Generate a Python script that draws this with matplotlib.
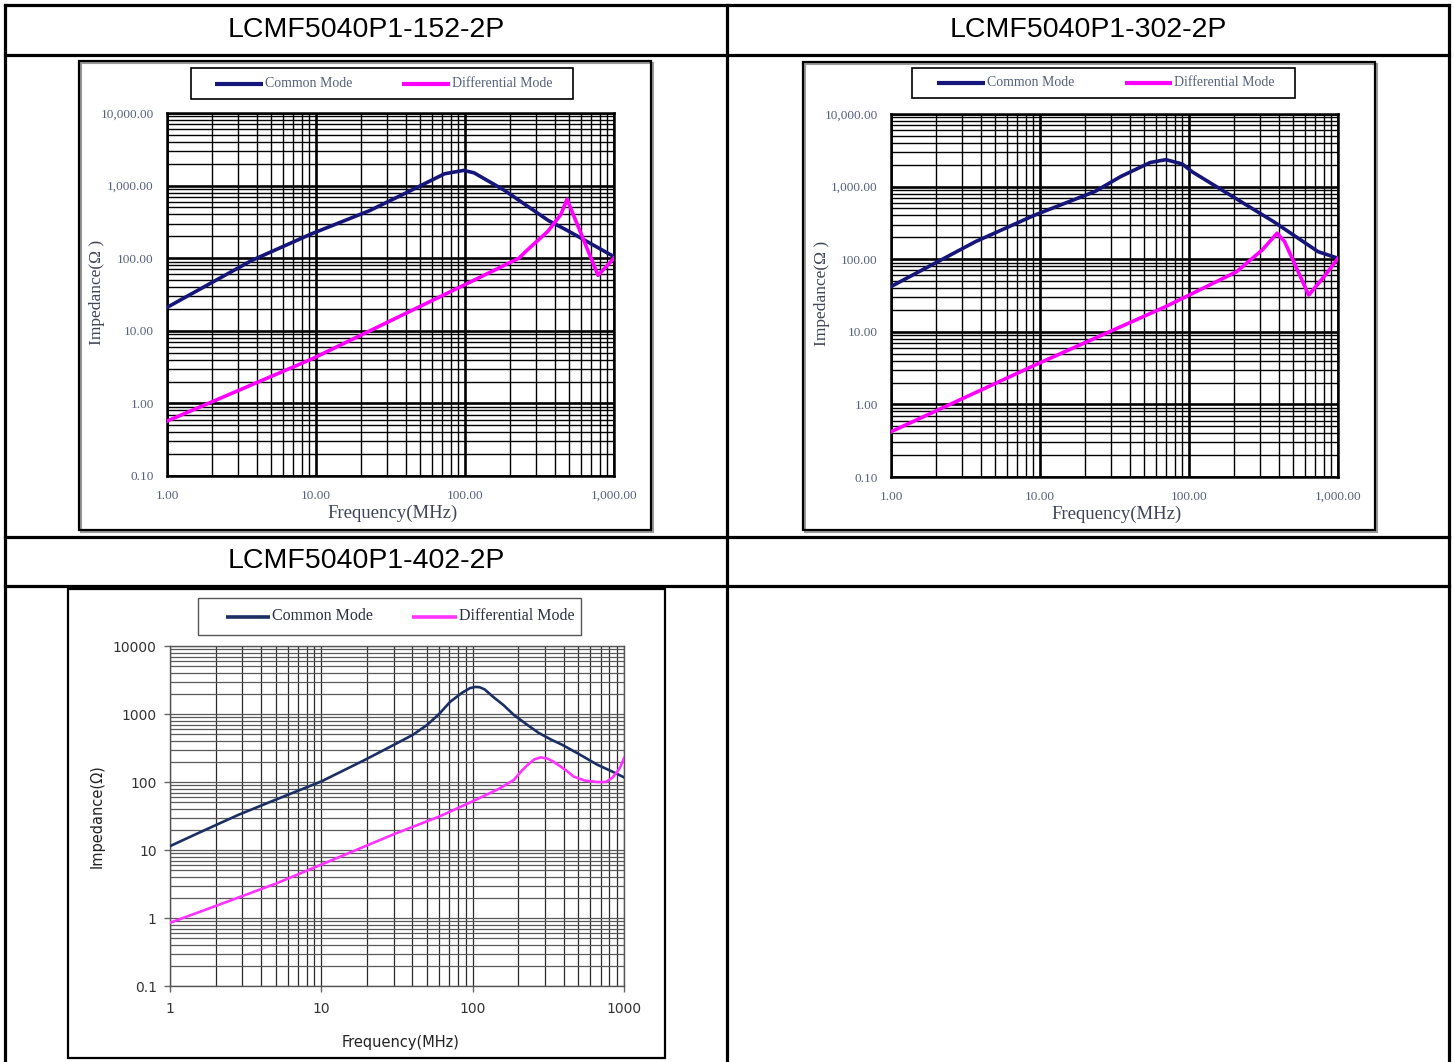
import matplotlib
matplotlib.use("Agg")
import matplotlib.pyplot as plt
from matplotlib.patches import Rectangle
from matplotlib.ticker import LogLocator, NullFormatter
import numpy as np

W, H = 1454, 1062

# --- data (MHz, Ohm) ---
titles = ["LCMF5040P1-152-2P", "LCMF5040P1-302-2P", "LCMF5040P1-402-2P"]

f_cm_152 = [1, 3.7, 9.3, 23, 41, 73, 98, 115, 184, 363, 488, 1000]
cm_152 = [21, 93, 216, 454, 810, 1456, 1620, 1500, 860, 330, 240, 105]
f_dm_152 = [1, 9.4, 97, 230, 257, 360, 440, 484, 781, 1000]
dm_152 = [0.57, 4.1, 42, 100, 125, 235, 400, 650, 58, 100]

f_cm_302 = [1, 3.7, 9.3, 23.4, 34.9, 55, 70, 90, 105, 369, 735, 1000]
cm_302 = [42, 175, 408, 857, 1380, 2150, 2350, 2050, 1600, 330, 127, 103]
f_dm_302 = [1, 9.3, 69.6, 208, 310, 390, 438, 636, 825, 1000]
dm_302 = [0.42, 3.5, 22.2, 67, 134, 228, 175, 32, 61, 103]

f_cm_402 = [1, 1.5, 2.84, 5, 10, 19.6, 30, 40, 50, 60, 71, 85, 96, 104, 111, 120,
            136, 160, 187, 230, 274, 330, 390, 500, 665, 850, 1000]
cm_402 = [11.4, 17.3, 33, 55, 102, 214, 350, 490, 690, 1000, 1510, 2050, 2400, 2500,
          2480, 2300, 1800, 1350, 970, 690, 525, 420, 353, 260, 180, 140, 117]
f_dm_402 = [1, 1.4, 2, 5, 10, 30, 60, 100, 150, 187, 210, 230, 255, 282, 310, 340,
            370, 420, 465, 550, 665, 760, 835, 900, 950, 1000]
dm_402 = [0.85, 1.12, 1.5, 3.2, 6.1, 17, 31, 52, 80, 107, 145, 177, 215, 230, 222,
          200, 177, 145, 120, 105, 100, 100, 115, 140, 170, 225]

fig = plt.figure(figsize=(W / 100, H / 100), dpi=100)

bg = fig.add_axes([0, 0, 1, 1])
bg.set_xlim(0, W)
bg.set_ylim(H, 0)
bg.axis("off")


def rect(x0, y0, x1, y1):
    return [x0 / W, 1 - y1 / H, (x1 - x0) / W, (y1 - y0) / H]


# table grid
tl = dict(color="black", lw=2.3, solid_capstyle="projecting")
for y in [5, 55, 537, 586]:
    bg.plot([5, 1449], [y, y], **tl)
for x in [5, 727, 1449]:
    bg.plot([x, x], [5, 1062], **tl)

title_font = dict(family="Liberation Sans", fontsize=20.5, ha="center", va="center")
bg.text(366, 30, titles[0], **title_font)
bg.text(1088, 30, titles[1], **title_font)
bg.text(366, 561, titles[2], **title_font)


def legend_box(box, items, lw_line, font, tcolor, edge, elw):
    x0, y0, x1, y1 = box
    bg.add_patch(Rectangle((x0, y0), x1 - x0, y1 - y0, fill=False, ec=edge, lw=elw))
    yc = (y0 + y1) / 2
    for (lx0, lx1, color, label) in items:
        bg.plot([lx0, lx1], [yc, yc], color=color, lw=lw_line, solid_capstyle="butt")
        bg.text(lx1 + 2, yc, label, ha="left", va="center", color=tcolor, **font)


CM_OLD = "#15157a"
DM_OLD = "#ff00ff"
serif = "Liberation Serif"


def old_chart(plot_px, box_px, leg_px, leg_items, xlab_xy, ylab_xy, f_cm, cm, f_dm, dm):
    bg.add_patch(Rectangle((box_px[0] + 2, box_px[1] + 2), box_px[2] - box_px[0],
                           box_px[3] - box_px[1], fill=False, ec="#9a9a9a", lw=1.5))
    bg.add_patch(Rectangle((box_px[0], box_px[1]), box_px[2] - box_px[0],
                           box_px[3] - box_px[1], fill=False, ec="black", lw=1.6))
    legend_box(leg_px, leg_items, 3.0, dict(family=serif, fontsize=10), "#55607a",
               "black", 1.2)
    ax = fig.add_axes(rect(*plot_px))
    ax.set_xscale("log")
    ax.set_yscale("log")
    ax.set_xlim(1, 1000)
    ax.set_ylim(0.1, 10000)
    ax.xaxis.set_minor_locator(LogLocator(base=10, subs=np.arange(2, 10), numticks=100))
    ax.yaxis.set_minor_locator(LogLocator(base=10, subs=np.arange(2, 10), numticks=100))
    ax.xaxis.set_minor_formatter(NullFormatter())
    ax.yaxis.set_minor_formatter(NullFormatter())
    ax.set_xticks([1, 10, 100, 1000], ["1.00", "10.00", "100.00", "1,000.00"])
    ax.set_yticks([0.1, 1, 10, 100, 1000, 10000],
                  ["0.10", "1.00", "10.00", "100.00", "1,000.00", "10,000.00"])
    ax.tick_params(which="both", length=0)
    ax.tick_params(axis="y", pad=9.5)
    ax.tick_params(axis="x", pad=10)
    for lab in ax.get_xticklabels() + ax.get_yticklabels():
        lab.set_fontfamily(serif)
        lab.set_fontsize(9.5)
        lab.set_color("#55607a")
    ax.grid(which="major", color="black", lw=1.9)
    ax.grid(which="minor", color="black", lw=1.0)
    for s in ax.spines.values():
        s.set_linewidth(1.8)
    ax.plot(f_cm, cm, color=CM_OLD, lw=2.6, zorder=3)
    ax.plot(f_dm, dm, color=DM_OLD, lw=2.6, zorder=3)
    bg.text(*xlab_xy, "Frequency(MHz)", family=serif, fontsize=13.5, color="#404458",
            ha="center", va="center")
    bg.text(*ylab_xy, "Impedance(Ω )", family=serif, fontsize=12.5, color="#404458",
            ha="center", va="center", rotation=90)
    return ax


old_chart((167, 113, 614, 476), (79, 61, 651, 530), (191, 68, 573, 99),
          [(215, 263, CM_OLD, "Common Mode"), (402, 450, DM_OLD, "Differential Mode")],
          (393, 513), (97, 292), f_cm_152, cm_152, f_dm_152, dm_152)

old_chart((891, 114, 1338, 477), (803, 62, 1375, 530), (912, 68, 1295, 98),
          [(937, 985, CM_OLD, "Common Mode"), (1125, 1172, DM_OLD, "Differential Mode")],
          (1117, 514), (822, 293), f_cm_302, cm_302, f_dm_302, dm_302)

# --- third chart (newer style) ---
CM_NEW = "#1b2f63"
DM_NEW = "#ff33ff"
bg.add_patch(Rectangle((68, 589), 597, 469, fill=False, ec="black", lw=1.6))
legend_box((198, 598, 581, 635),
           [(226, 270, CM_NEW, "Common Mode"), (412, 457, DM_NEW, "Differential Mode")],
           2.6, dict(family=serif, fontsize=11.5), "#2c3040", "#555555", 1.0)

ax3 = fig.add_axes(rect(170, 646, 624, 986))
ax3.set_xscale("log")
ax3.set_yscale("log")
ax3.set_xlim(1, 1000)
ax3.set_ylim(0.1, 10000)
ax3.xaxis.set_minor_locator(LogLocator(base=10, subs=np.arange(2, 10), numticks=100))
ax3.yaxis.set_minor_locator(LogLocator(base=10, subs=np.arange(2, 10), numticks=100))
ax3.xaxis.set_minor_formatter(NullFormatter())
ax3.yaxis.set_minor_formatter(NullFormatter())
ax3.set_xticks([1, 10, 100, 1000], ["1", "10", "100", "1000"])
ax3.set_yticks([0.1, 1, 10, 100, 1000, 10000], ["0.1", "1", "10", "100", "1000", "10000"])
ax3.tick_params(which="major", length=4.5, width=1.0, color="#666666",
                labelsize=10, labelcolor="#333333", pad=5)
ax3.tick_params(which="minor", length=0)
ax3.tick_params(axis="x", pad=7)
ax3.grid(which="both", axis="y", color="#5a5a5a", lw=0.9)
ax3.grid(which="both", axis="x", color="#2a2a2a", lw=0.9)
for s in ax3.spines.values():
    s.set_color("#555555")
    s.set_linewidth(1.0)
ax3.plot(f_cm_402, cm_402, color=CM_NEW, lw=1.9, zorder=3)
ax3.plot(f_dm_402, dm_402, color=DM_NEW, lw=1.9, zorder=3)
bg.text(401, 1042, "Frequency(MHz)", fontsize=10.5, color="#222222",
        ha="center", va="center")
bg.text(97, 816, "Impedance(Ω)", fontsize=10.5, color="#222222",
        ha="center", va="center", rotation=90)

fig.savefig("out.png", dpi=100)
